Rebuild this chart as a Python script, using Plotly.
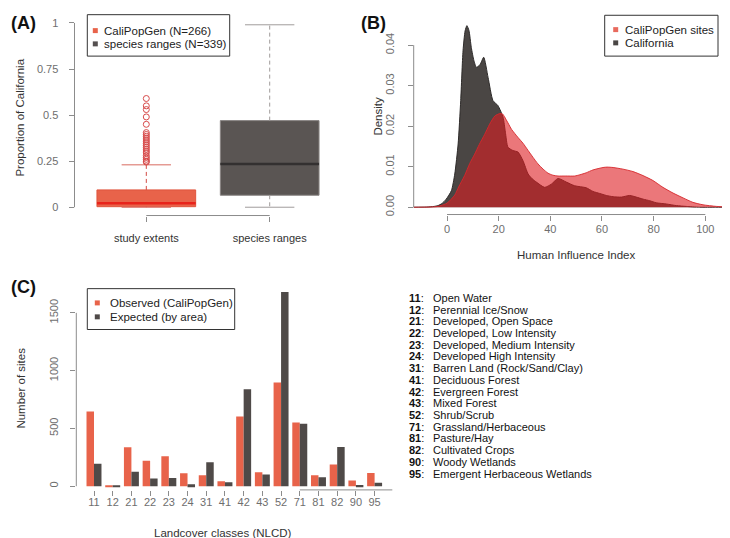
import plotly.graph_objects as go

# ---- (A) proportion of California covered, boxplot summaries
box_names = ["study extents", "species ranges"]
box_pos = [1, 2]
box_q1 = [0.003, 0.065]
box_med = [0.022, 0.234]
box_q3 = [0.094, 0.47]
box_lo = [0.0, 0.0]
box_hi = [0.23, 0.99]
outliers_a = [0.59, 0.55, 0.53, 0.49, 0.45, 0.405, 0.395, 0.385, 0.375, 0.365, 0.355,
              0.345, 0.335, 0.325, 0.315, 0.305, 0.295, 0.28, 0.27, 0.26, 0.25, 0.245]
a_yticks = [0, 0.25, 0.5, 0.75, 1]
a_ylabels = ["0", "0.25", "0.5", "0.75", "1"]
a_legend = ["CaliPopGen (N=266)", "species ranges (N=339)"]

# ---- (B) density of Human Influence Index
ca_x = [-13, -8, -5, -3.5, -2, -0.3, 1.7, 3.0, 4.3, 5.3, 6.2, 7.0, 7.7, 8.5, 9.4, 10.4,
        11.4, 12.8, 14.2, 15.9, 17.8, 19.7, 21.7, 22.6, 23.6, 25.5, 27.5, 29.4, 31.4, 33.0,
        34.6, 37.8, 40.4, 43.0, 46.2, 49.4, 53.9, 56.5, 59.1, 61.7, 64.3, 67.5, 70.7, 73.3,
        75.9, 78.5, 81.0, 84.9, 88.8, 92.6, 97.8, 104, 112]
ca_y = [0, 0.00005, 0.0002, 0.0004, 0.0009, 0.002, 0.0041, 0.0082, 0.0156, 0.0263, 0.0386,
        0.0435, 0.0448, 0.0436, 0.0394, 0.0362, 0.0345, 0.0352, 0.037, 0.032, 0.0263, 0.0251,
        0.0222, 0.0185, 0.0148, 0.014, 0.0136, 0.0115, 0.0082, 0.007, 0.0062, 0.0049, 0.0057,
        0.0071, 0.0062, 0.0053, 0.0048, 0.0039, 0.0034, 0.0029, 0.0026, 0.0025, 0.0029,
        0.0025, 0.002, 0.0016, 0.0011, 0.0008, 0.0004, 0.0002, 0.0, 0, 0]
cpg_x = [-13, -7, -3.5, 0, 3.0, 4.5, 6.8, 8.8, 10.7, 12.5, 14.6, 16.5, 18.5, 20.4, 21.5,
         23.6, 25.0, 27.5, 29.4, 31.4, 33.3, 35.2, 37.2, 39.1, 41.0, 43.0, 46.0, 49.4, 51.4,
         53.9, 56.5, 60.4, 62.0, 64.3, 68.1, 72.0, 75.9, 79.7, 83.6, 87.5, 91.4, 95.2, 99.1,
         104.3, 112]
cpg_y = [0, 0.00005, 0.0002, 0.001, 0.003, 0.005, 0.0078, 0.0108, 0.0131, 0.0155, 0.018,
         0.0205, 0.0225, 0.0231, 0.023, 0.0208, 0.0192, 0.0172, 0.0158, 0.014, 0.0123,
         0.0107, 0.0094, 0.0084, 0.0079, 0.0077, 0.0077, 0.0077, 0.008, 0.0085, 0.0092,
         0.0098, 0.0099, 0.0098, 0.0094, 0.0088, 0.0078, 0.0066, 0.0049, 0.0035, 0.0023,
         0.0012, 0.0006, 0.0002, 0]
b_xticks = [0, 20, 40, 60, 80, 100]
b_yticks = [0, 0.01, 0.02, 0.03, 0.04]
b_ylabels = ["0.00", "0.01", "0.02", "0.03", "0.04"]
b_legend = ["CaliPopGen sites", "California"]

# ---- (C) landcover classes
nlcd = ["11", "12", "21", "22", "23", "24", "31", "41", "42", "43", "52", "71", "81", "82", "90", "95"]
observed = [647, 4, 336, 221, 259, 112, 95, 43, 604, 121, 897, 552, 95, 187, 49, 115]
expected = [195, 3, 124, 66, 72, 17, 207, 34, 839, 101, 1681, 540, 78, 339, 11, 29]
c_yticks = [0, 500, 1000, 1500]
c_legend = ["Observed (CaliPopGen)", "Expected (by area)"]
nlcd_names = ["Open Water", "Perennial Ice/Snow", "Developed, Open Space",
              "Developed, Low Intensity", "Developed, Medium Intensity",
              "Developed High Intensity", "Barren Land (Rock/Sand/Clay)", "Deciduous Forest",
              "Evergreen Forest", "Mixed Forest", "Shrub/Scrub", "Grassland/Herbaceous",
              "Pasture/Hay", "Cultivated Crops", "Woody Wetlands", "Emergent Herbaceous Wetlands"]

W, H = 730, 538
FONT = "Liberation Sans, Arial, sans-serif"
SALMON = "#E8634A"
DARK = "#4F4A48"
TICKC = "#6E6E6E"
AXC = "#8C8C8C"

def px(x):
    return x / W

def py(y):
    return 1 - y / H

fig = go.Figure()

# ---------- panel A
box_fill = [SALMON, "#5A5553"]
box_edge = ["#E0553E", "#8A8584"]
med_col = ["#E8231B", "#333030"]
wh_col = ["#D24A44", "#A09C9B"]
cap_col = ["#D86A60", "#A09C9B"]
half = 0.4
fig.add_trace(go.Bar(x=box_pos, y=[q3 - q1 for q1, q3 in zip(box_q1, box_q3)], base=box_q1,
                     width=0.8, marker=dict(color=box_fill, line=dict(color=box_edge, width=1)),
                     showlegend=False, hoverinfo="skip", xaxis="x", yaxis="y"))
for i, p in enumerate(box_pos):
    fig.add_trace(go.Scatter(x=[p, p, None, p, p], y=[box_q3[i], box_hi[i], None, box_q1[i], box_lo[i]],
                             mode="lines", line=dict(color=wh_col[i], width=1, dash="4px,3px"),
                             showlegend=False, hoverinfo="skip", xaxis="x", yaxis="y"))
    fig.add_trace(go.Scatter(x=[p - half / 2, p + half / 2, None, p - half / 2, p + half / 2],
                             y=[box_hi[i], box_hi[i], None, box_lo[i], box_lo[i]],
                             mode="lines", line=dict(color=cap_col[i], width=1),
                             showlegend=False, hoverinfo="skip", xaxis="x", yaxis="y"))
    fig.add_trace(go.Scatter(x=[p - half, p + half], y=[box_med[i], box_med[i]],
                             mode="lines", line=dict(color=med_col[i], width=2.5),
                             showlegend=False, hoverinfo="skip", xaxis="x", yaxis="y"))
fig.add_trace(go.Scatter(x=[box_pos[0]] * len(outliers_a), y=outliers_a, mode="markers",
                         marker=dict(symbol="circle-open", size=6, color="#D84C4C", line=dict(width=1)),
                         showlegend=False, hoverinfo="skip", xaxis="x", yaxis="y"))

# ---------- panel B
fig.add_trace(go.Scatter(x=ca_x, y=ca_y, mode="lines", fill="tozeroy", fillcolor="#4A4644",
                         line=dict(color="#2E2B2A", width=1, shape="spline", smoothing=0.6),
                         showlegend=False, hoverinfo="skip", xaxis="x2", yaxis="y2"))
fig.add_trace(go.Scatter(x=cpg_x, y=cpg_y, mode="lines", fill="tozeroy",
                         fillcolor="rgba(222,28,34,0.6)",
                         line=dict(color="rgba(214,40,44,0.9)", width=1, shape="spline", smoothing=0.6),
                         showlegend=False, hoverinfo="skip", xaxis="x2", yaxis="y2"))

# ---------- panel C
fig.add_trace(go.Bar(x=nlcd, y=observed, marker=dict(color=SALMON, line=dict(width=0)),
                     showlegend=False, hoverinfo="skip", xaxis="x3", yaxis="y3"))
fig.add_trace(go.Bar(x=nlcd, y=expected, marker=dict(color=DARK, line=dict(width=0)),
                     showlegend=False, hoverinfo="skip", xaxis="x3", yaxis="y3"))

tickfont = dict(family=FONT, size=11, color=TICKC)
common = dict(showgrid=False, zeroline=False, showline=False, ticks="outside", ticklen=5,
              tickcolor=AXC, tickwidth=1, tickfont=tickfont, fixedrange=True)

fig.update_layout(
    width=W, height=H, margin=dict(l=0, r=0, t=0, b=0),
    paper_bgcolor="white", plot_bgcolor="white", showlegend=False,
    barmode="group", bargap=0.2, bargroupgap=0,
    font=dict(family=FONT, size=11, color="#333333"),
    xaxis=dict(domain=[px(66.5), px(333.5)], range=[0.418, 2.582], anchor="y",
               tickvals=box_pos, ticktext=box_names, ticklabelstandoff=7,
               **{**common, "tickfont": dict(family=FONT, size=11, color="#333333")}),
    yaxis=dict(domain=[py(208.3), py(7.6)], range=[-0.045, 1.04], anchor="x",
               tickvals=a_yticks, ticktext=a_ylabels, ticklabelstandoff=8, **common),
    xaxis2=dict(domain=[px(405.7), px(728.3)], range=[-12.9, 112], anchor="y2",
                tickvals=b_xticks, ticklabelstandoff=-1, **common),
    yaxis2=dict(domain=[py(207.3), py(11.2)], range=[-0.0018, 0.0464], anchor="x2",
                tickvals=b_yticks, ticktext=b_ylabels, tickangle=-90, ticklabelstandoff=9, **common),
    xaxis3=dict(domain=[px(68.3), px(384.3)], range=[-0.946, 15.946], anchor="y3",
                type="category", ticklabelstandoff=-3, **common),
    yaxis3=dict(domain=[py(483.7), py(271.2)], range=[-32, 1800], anchor="x3",
                tickvals=c_yticks, tickangle=-90, ticklabelstandoff=8, **common),
)

# R-style axis lines spanning first to last tick
line_style = dict(color=AXC, width=1)
axis_lines = [
    dict(xref="x", x0=box_pos[0], x1=box_pos[-1], yref="y domain", y0=0, y1=0),
    dict(xref="x domain", x0=0, x1=0, yref="y", y0=a_yticks[0], y1=a_yticks[-1]),
    dict(xref="x2", x0=b_xticks[0], x1=b_xticks[-1], yref="y2 domain", y0=0, y1=0),
    dict(xref="x2 domain", x0=0, x1=0, yref="y2", y0=b_yticks[0], y1=b_yticks[-1]),
    dict(xref="x3", x0=nlcd[0], x1=nlcd[-1], yref="y3 domain", y0=0, y1=0),
    dict(xref="x3 domain", x0=0, x1=0, yref="y3", y0=c_yticks[0], y1=c_yticks[-1]),
]
for s in axis_lines:
    fig.add_shape(type="line", line=line_style, **s)


def legend_box(x0, y0, x1, y1, sq_x, txt_x, rows, labels, colors):
    fig.add_shape(type="rect", xref="paper", yref="paper", x0=px(x0), x1=px(x1),
                  y0=py(y1), y1=py(y0), line=dict(color="#333333", width=1),
                  fillcolor="white", layer="above")
    for yy, lab, col in zip(rows, labels, colors):
        fig.add_shape(type="rect", xref="paper", yref="paper", x0=px(sq_x - 2.5), x1=px(sq_x + 2.5),
                      y0=py(yy + 2.5), y1=py(yy - 2.5), line=dict(width=0), fillcolor=col,
                      layer="above")
        fig.add_annotation(text=lab, x=px(txt_x), y=py(yy), xref="paper", yref="paper",
                           xanchor="left", yanchor="middle", showarrow=False,
                           font=dict(family=FONT, size=11.5, color="#222222"))


legend_box(79.3, 6.7, 221.7, 48.3, 87.3, 93.5, [22.7, 36.0], a_legend, [SALMON, "#555050"])
legend_box(596.7, 7.3, 710.0, 48.3, 607.7, 614.5, [21.7, 35.0], b_legend, ["#E86A5E", "#4A4644"])
legend_box(79.3, 281.7, 226.7, 322.7, 89.3, 99.5, [296.0, 310.0], c_legend, [SALMON, DARK])

# panel tags and axis titles
for tag, x, y in [("(A)", 1, 3), ("(B)", 351, 3), ("(C)", 1, 268)]:
    fig.add_annotation(text="<b>%s</b>" % tag, x=px(x), y=py(y), xref="paper", yref="paper",
                       xanchor="left", yanchor="top", showarrow=False,
                       font=dict(family=FONT, size=18, color="#111111"))
titles = [("Proportion of California", 12, 110, -90),
          ("Density", 370, 109, -90),
          ("Human Influence Index", 568, 248, 0),
          ("Number of sites", 13, 382, -90),
          ("Landcover classes (NLCD)", 215, 527, 0)]
for txt, x, y, ang in titles:
    fig.add_annotation(text=txt, x=px(x), y=py(y), xref="paper", yref="paper",
                       xanchor="center", yanchor="middle", textangle=ang, showarrow=False,
                       font=dict(family=FONT, size=11.5, color="#333333"))

# NLCD class key
for i, (code, name) in enumerate(zip(nlcd, nlcd_names)):
    yy = 291 + i * 11.75
    fig.add_annotation(text="<b>%s</b>:" % code, x=px(399), y=py(yy), xref="paper", yref="paper",
                       xanchor="left", yanchor="middle", showarrow=False,
                       font=dict(family=FONT, size=11, color="#111111"))
    fig.add_annotation(text=name, x=px(423), y=py(yy), xref="paper", yref="paper",
                       xanchor="left", yanchor="middle", showarrow=False,
                       font=dict(family=FONT, size=11, color="#111111"))

fig.write_html("out.html")
